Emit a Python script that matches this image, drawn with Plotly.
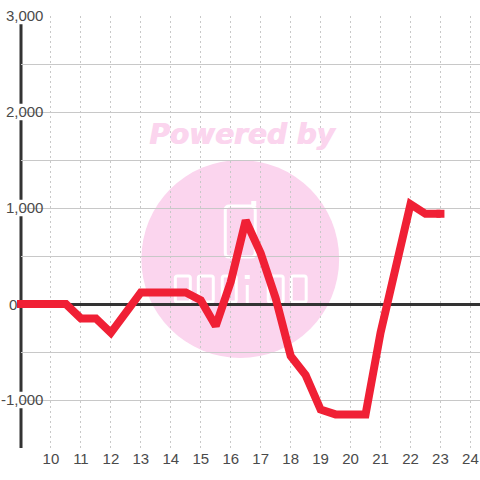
import plotly.graph_objects as go

x_vals = [9, 9.5, 10, 10.5, 11, 11.5, 12, 12.5, 13, 13.5, 14, 14.5, 15, 15.5, 16, 16.5, 17, 17.5, 18, 18.5, 19, 19.5, 20, 20.5, 21, 21.5, 22, 22.5, 23]
y_vals = [0, 0, 0, 0, -150, -150, -300, -100, 120, 120, 120, 120, 40, -230, 230, 870, 530, 60, -540, -740, -1100, -1150, -1150, -1150, -300, 350, 1040, 940, 940]
y_ticks = [-1500, -1000, -500, 0, 500, 1000, 1500, 2000, 2500, 3000]
y_labels = ["", "-1,000", "", "", "", "1,000", "", "2,000", "", "3,000"]
zero_label = "0"
x_ticks = list(range(10, 25))

L, T, R, B = 20.5, 16, 480, 448
W, H = R - L, B - T
PINK = "#fbd5ee"
RED = "#f02035"
TEXT = "#4a4a4a"
def px(v): return (v - L) / W
def py(v): return 1 - (v - T) / H

def rpath(x0, y0, x1, y1, r=3):
    X = px
    Y = py
    return (f"M{X(x0+r)},{Y(y0)} L{X(x1-r)},{Y(y0)} Q{X(x1)},{Y(y0)} {X(x1)},{Y(y0+r)} "
            f"L{X(x1)},{Y(y1-r)} Q{X(x1)},{Y(y1)} {X(x1-r)},{Y(y1)} L{X(x0+r)},{Y(y1)} "
            f"Q{X(x0)},{Y(y1)} {X(x0)},{Y(y1-r)} L{X(x0)},{Y(y0+r)} Q{X(x0)},{Y(y0)} {X(x0+r)},{Y(y0)} Z")

def wpath(d, width=3):
    return dict(type="path", xref="paper", yref="paper", path=d, fillcolor="rgba(0,0,0,0)",
                line=dict(color="white", width=width), layer="below")

shapes = [
    dict(type="circle", xref="paper", yref="paper", x0=px(141), x1=px(339), y0=py(358), y1=py(160),
         fillcolor=PINK, line_width=0, layer="below"),
]
shapes += [wpath(rpath(225, 206, 255, 257, 4)),
           wpath(f"M{px(253.5)},{py(206)} L{px(253.5)},{py(201)}", 5)]
for a, b in [(175, 190), (198, 213), (222, 236), (268, 283), (291, 306)]:
    shapes.append(wpath(rpath(a, 276, b, 302, 2)))
shapes.append(wpath(f"M{px(247)},{py(285)} L{px(247)},{py(303)}", 3))
shapes.append(wpath(f"M{px(247)},{py(275)} L{px(247)},{py(279)}", 5))

shapes.append(dict(type="line", xref="paper", yref="y", x0=0, x1=0, y0=-1500, y1=3000,
                   line=dict(color="#333333", width=3), layer="between"))
for v, lab in zip(y_ticks, y_labels):
    if lab:
        shapes.append(dict(type="rect", xref="paper", yref="y", x0=px(3), x1=px(45),
                           y0=v - 85, y1=v + 85, fillcolor="white", line_width=0, layer="between"))

sizes = [8] + [0] * (len(x_vals) - 2) + [8]
fig = go.Figure(go.Scatter(x=x_vals, y=y_vals, mode="lines+markers", cliponaxis=False,
                           line=dict(color=RED, width=8),
                           marker=dict(color=RED, size=sizes, opacity=1, symbol="square", line_width=0),
                           hoverinfo="skip"))
fig.update_layout(
    width=480, height=480, autosize=False, showlegend=False,
    paper_bgcolor="white", plot_bgcolor="rgba(0,0,0,0)",
    margin=dict(l=L, r=0, t=T, b=480 - B, pad=0),
    font=dict(family="Liberation Sans, Arial, sans-serif", size=15, color=TEXT),
    shapes=shapes,
    annotations=[
        dict(text="<b><i>Powered by</i></b>", xref="paper", yref="paper", x=px(242), y=py(134),
             xanchor="center", yanchor="middle", showarrow=False,
             font=dict(family="DejaVu Sans", size=28, color=PINK, shadow=f"1px 0 0 {PINK}")),
        dict(text=zero_label, xref="paper", yref="y", x=px(12), y=0, xanchor="center", yanchor="middle",
             showarrow=False, font=dict(size=15, color=TEXT)),
    ],
    xaxis=dict(range=[9, 24.32], tickvals=x_ticks, ticktext=[str(t) for t in x_ticks], showline=False,
               showgrid=True, gridcolor="#c8c8c8", griddash="2px,3px", gridwidth=1, zeroline=False, ticks="",
               ticklen=0, tickfont=dict(size=15, color=TEXT)),
    yaxis=dict(range=[-1500, 3000], tickvals=y_ticks, ticktext=y_labels, showline=False, anchor="free",
               position=px(43), showgrid=True, gridcolor="#c8c8c8", gridwidth=1, zeroline=True,
               zerolinecolor="#333333", zerolinewidth=3, ticks="", ticklen=0,
               tickfont=dict(size=15, color=TEXT)),
)
fig.write_html("out.html", config={"displayModeBar": False}, post_script="document.body.style.margin='0';")
